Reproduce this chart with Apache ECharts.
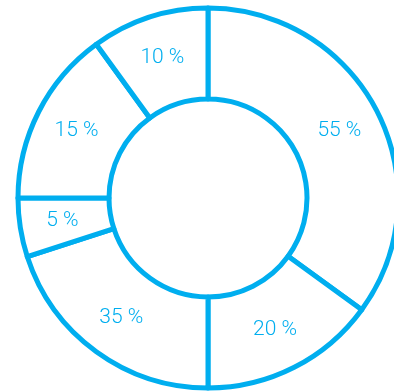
<!DOCTYPE html>
<html>
<head>
<meta charset="utf-8">
<script src="https://cdn.jsdelivr.net/npm/echarts@6/dist/echarts.min.js"></script>
<style>
    html, body {margin: 0; padding: 0; background: #fff;}
    #chart {width: 394px; height: 391px;}
</style>
</head>
<body>
<div id="chart"></div>
<script>
// 标签文字（按顺时针，从12点开始）
var labels = ['55 %', '20 %', '35 %', '5 %', '15 %', '10 %'];
// 扇区大小（从图上角度读出）
var shares = [35, 15, 20, 5, 15, 10];

var blue = '#00aeef';

var chart = echarts.init(document.getElementById('chart'));
chart.setOption({
    animation: false,
    series: [{
        type: 'pie',
        center: [208, 198],
        radius: [99, 190],
        startAngle: 90,
        clockwise: true,
        silent: true,
        itemStyle: {
            color: '#fff',
            borderColor: blue,
            borderWidth: 5
        },
        label: {
            show: true,
            position: 'inside',
            color: blue,
            fontFamily: 'Roboto',
            fontWeight: 300,
            fontSize: 21,
            formatter: function (p) {
                return labels[p.dataIndex];
            }
        },
        labelLine: {show: false},
        data: shares.map(function (v, i) {
            return {name: labels[i], value: v};
        })
    }]
});
</script>
</body>
</html>
